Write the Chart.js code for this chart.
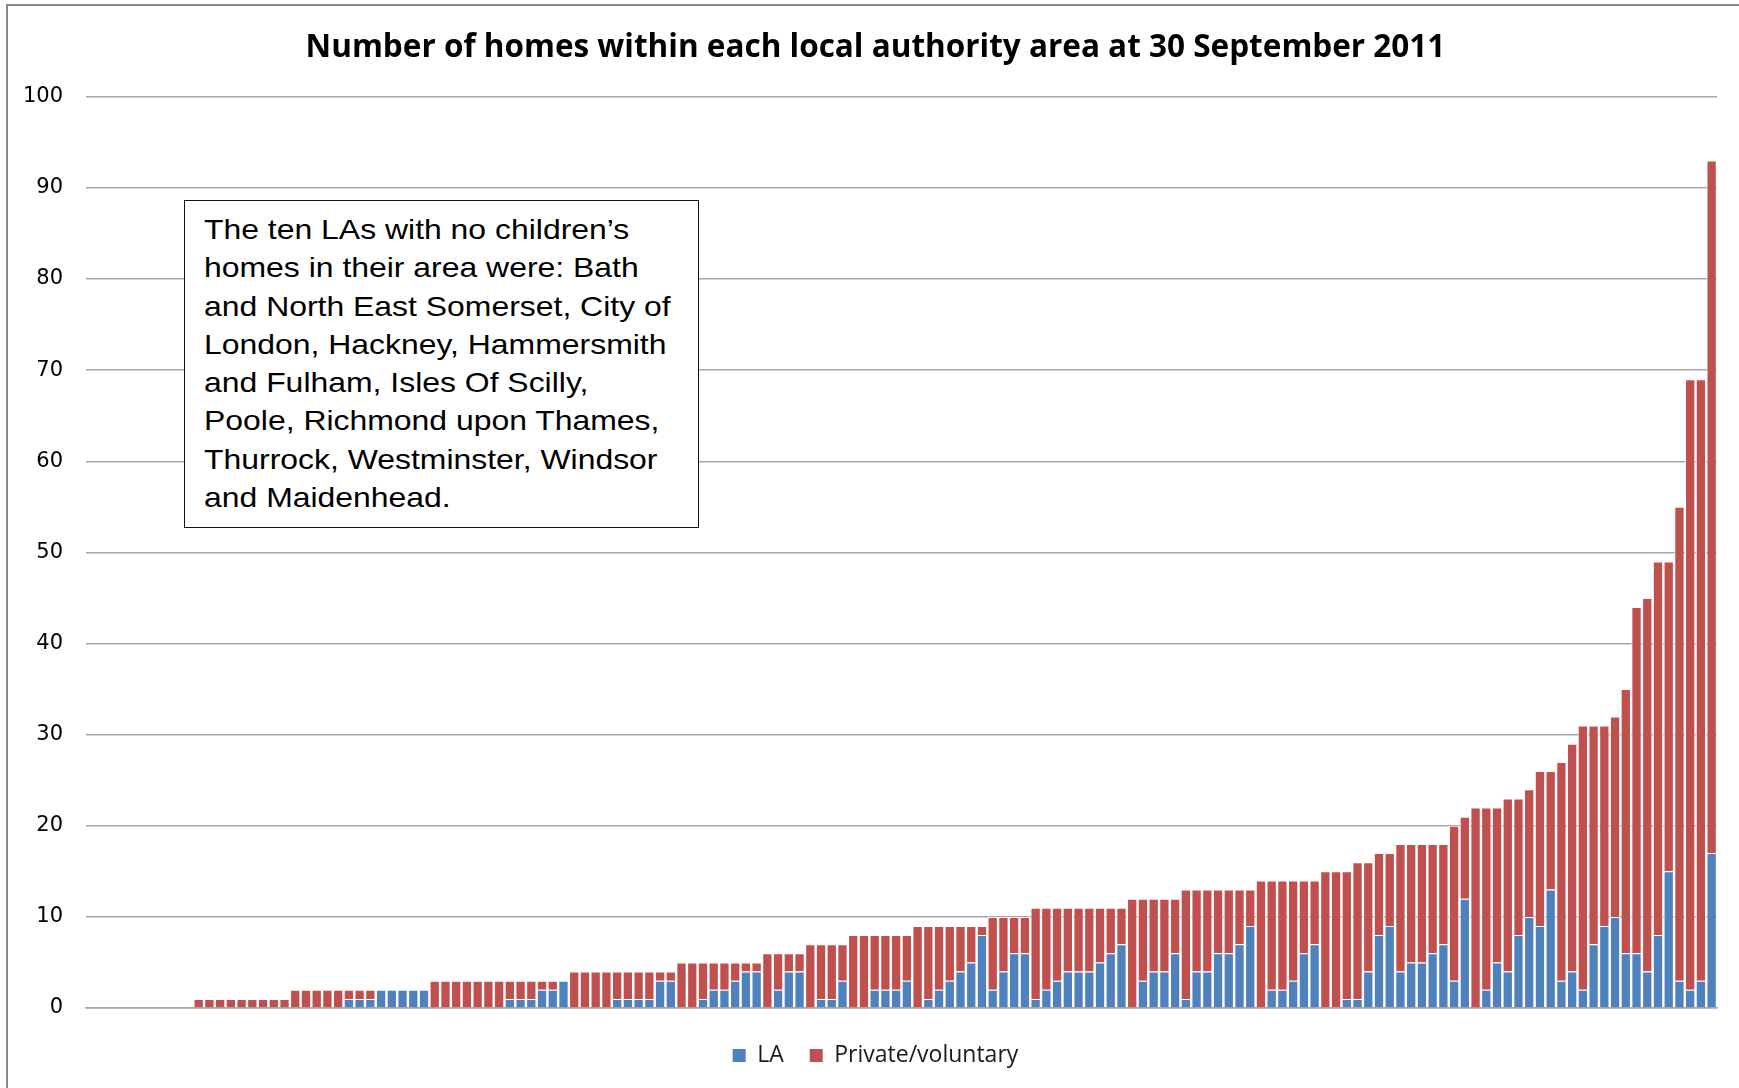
<!DOCTYPE html>
<html>
<head>
<meta charset="utf-8">
<script src="https://cdn.jsdelivr.net/npm/chart.js@4"></script>
<style>
  html, body { margin: 0; padding: 0; background: #fff; }
  #wrap { position: relative; width: 1739px; height: 1088px; overflow: hidden; }
  #frame { position: absolute; left: 6px; top: 4px; right: -10px; bottom: -10px; border-left: 2px solid #8a8a8a; border-top: 2px solid #8a8a8a; }
  #chart { position: absolute; left: 0; top: 0; width: 1739px; height: 1088px; }
  #note {
    position: absolute; left: 184px; top: 200px; width: 515px; height: 328px;
    box-sizing: border-box; border: 1.5px solid #111; background: #fff;
    padding: 9px 0 0 19px;
    font-family: "Liberation Sans", Arial, sans-serif; font-size: 28.5px; line-height: 38.3px; color: #000;
  }
  #note span { display: inline-block; transform: scaleX(1.12); transform-origin: left top; white-space: nowrap; }
</style>
</head>
<body>
<div id="wrap">
  <div id="frame"></div>
  <canvas id="chart" width="1739" height="1088"></canvas>
  <div id="note"><span>The ten LAs with no children’s<br>homes in their area were: Bath<br>and North East Somerset, City of<br>London, Hackney, Hammersmith<br>and Fulham, Isles Of Scilly,<br>Poole, Richmond upon Thames,<br>Thurrock, Westminster, Windsor<br>and Maidenhead.</span></div>
</div>
<script>
// homes per local authority, sorted by total (152 LAs)
const laHomes = [
  0,0,0,0,0,0,0,0,0,0,
  0,0,0,0,0,0,0,0,0,
  0,0,0,0,0,1,1,1,2,2,2,2,2,
  0,0,0,0,0,0,0,1,1,1,2,2,3,
  0,0,0,0,1,1,1,1,3,3,
  0,0,1,2,2,3,4,4,
  0,2,4,4,
  0,1,1,3,
  0,0,2,2,2,3,
  0,1,2,3,4,5,8,
  2,4,6,6,
  1,2,3,4,4,4,5,6,7,
  0,3,4,4,6,
  1,4,4,6,6,7,9,
  0,2,2,3,6,7,
  0,0,1,
  1,4,
  8,9,
  4,5,5,6,7,
  3, 12, 0,2,5, 4,8, 10, 9,13, 3, 4, 2,7,9, 10, 6, 6, 4, 8,15, 3, 2,3, 17
];
const privateHomes = [
  0,0,0,0,0,0,0,0,0,0,
  1,1,1,1,1,1,1,1,1,
  2,2,2,2,2,1,1,1,0,0,0,0,0,
  3,3,3,3,3,3,3,2,2,2,1,1,0,
  4,4,4,4,3,3,3,3,1,1,
  5,5,4,3,3,2,1,1,
  6,4,2,2,
  7,6,6,4,
  8,8,6,6,6,5,
  9,8,7,6,5,4,1,
  8,6,4,4,
  10,9,8,7,7,7,6,5,4,
  12,9,8,8,6,
  12,9,9,7,7,6,4,
  14,12,12,11,8,7,
  15,15,14,
  15,12,
  9,8,
  14,13,13,12,11,
  17, 9, 22,20,17, 19,15, 14, 17,13, 24, 25, 29,24,22, 22, 29, 38, 41, 41,34, 52, 67,66, 76
];
const areas = laHomes.map((_, i) => "LA " + (i + 1));
const yTicks = [0, 10, 20, 30, 40, 50, 60, 70, 80, 90, 100];

const gridGrey = "#a6a6a6";

new Chart(document.getElementById("chart"), {
  type: "bar",
  data: {
    labels: areas,
    datasets: [
      {
        label: "LA",
        data: laHomes,
        backgroundColor: "#4F81BD",
        borderColor: "#ffffff",
        borderWidth: 1,
        categoryPercentage: 1,
        barPercentage: 0.96,
      },
      {
        label: "Private/voluntary",
        data: privateHomes,
        backgroundColor: "#C0504D",
        borderColor: "#ffffff",
        borderWidth: 1,
        categoryPercentage: 1,
        barPercentage: 0.96,
      },
    ],
  },
  options: {
    responsive: false,
    animation: false,
    layout: { padding: { left: 34, right: 22, top: 0, bottom: 11 } },
    plugins: {
      title: {
        display: true,
        text: "Number of homes within each local authority area at 30 September 2011",
        color: "#000",
        font: { family: "Open Sans", size: 31.5, weight: "bold" },
        padding: { top: 29, bottom: 30 },
      },
      legend: {
        position: "bottom",
        labels: {
          color: "#1a1a1a",
          font: { family: "Open Sans", size: 23 },
          boxWidth: 13,
          boxHeight: 13,
          padding: 26,
          generateLabels: (chart) =>
            Chart.defaults.plugins.legend.labels.generateLabels(chart).map(l => ({ ...l, lineWidth: 0 })),
        },
      },
      tooltip: { enabled: false },
    },
    scales: {
      x: {
        stacked: true,
        grid: { display: false },
        ticks: { display: false },
        border: { display: true, color: gridGrey, width: 1.5 },
        afterFit: (s) => { s.height = 10; },
      },
      y: {
        stacked: true,
        min: 0,
        max: 100,
        afterBuildTicks: (s) => { s.ticks = yTicks.map(v => ({ value: v })); },
        grid: { color: gridGrey, lineWidth: 1.5, drawTicks: false },
        border: { display: false },
        ticks: {
          color: "#000",
          padding: 23,
          font: { family: "DejaVu Sans", size: 21 },
        },
        afterFit: (s) => {
          s.width = 52;
          // labels reach left of the narrow axis box, so don't clip them
          s._computeLabelArea = () => undefined;
        },
      },
    },
  },
});
</script>
</body>
</html>
